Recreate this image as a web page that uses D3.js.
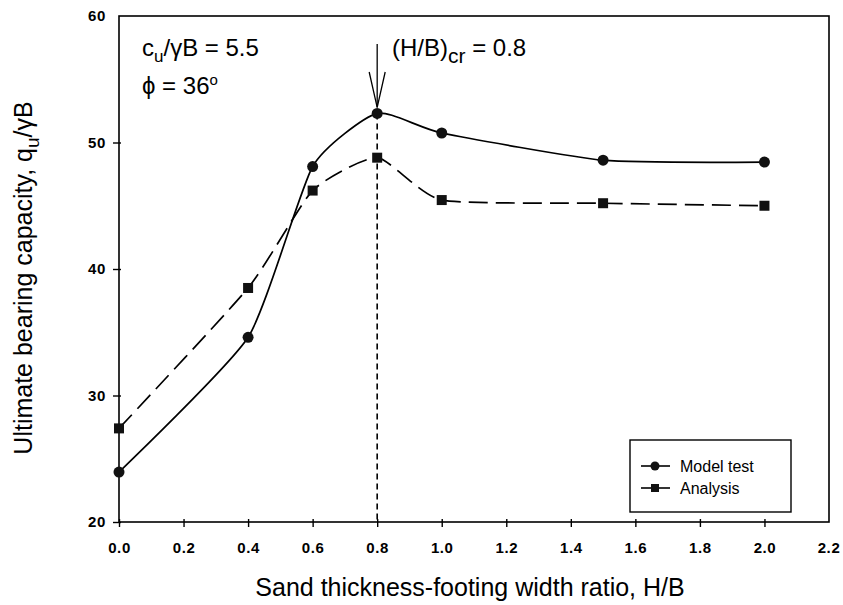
<!DOCTYPE html>
<html><head><meta charset="utf-8">
<script src="https://cdn.jsdelivr.net/npm/d3@7"></script>
<style>body{margin:0;background:#fff}svg{display:block}text{font-family:"Liberation Sans",Arial,sans-serif;fill:#000}</style>
</head><body><svg id="c" width="843" height="605"></svg>
<script>
const hb = [0.0, 0.4, 0.6, 0.8, 1.0, 1.5, 2.0];
const modelTest = [23.95, 34.6, 48.1, 52.3, 50.75, 48.6, 48.45];
const analysis = [27.4, 38.5, 46.2, 48.8, 45.45, 45.2, 45.0];
const xTicks = [0.0, 0.2, 0.4, 0.6, 0.8, 1.0, 1.2, 1.4, 1.6, 1.8, 2.0, 2.2];
const yTicks = [20, 30, 40, 50, 60];
const criticalHB = 0.8;

const svg = d3.select("#c");
const L = 119, R = 829, T = 16, B = 522;
const x = d3.scaleLinear().domain([0, 2.2]).range([L, R]);
const y = d3.scaleLinear().domain([20, 60]).range([B, T]);
const tickStyle = s => s.style("font-size", "15px").style("font-weight", "bold").style("letter-spacing", "0.6px");

svg.append("rect").attr("x", L).attr("y", T).attr("width", R - L).attr("height", B - T)
  .attr("fill", "none").attr("stroke", "#000").attr("stroke-width", 1.6);

const xa = svg.append("g").attr("transform", `translate(0,${B})`)
  .call(d3.axisBottom(x).tickValues(xTicks.filter(v => v < 2.2)).tickFormat(d3.format(".1f")).tickSize(5).tickSizeOuter(0));
xa.select(".domain").remove();
xa.selectAll("line").attr("stroke-width", 1.4).attr("y1", -3);
xa.selectAll("text").attr("y", 31).attr("dy", null).call(tickStyle);
svg.append("text").attr("x", x(2.2)).attr("y", B + 31).attr("text-anchor", "middle")
  .call(tickStyle).text(d3.format(".1f")(2.2));

const ya = svg.append("g").attr("transform", `translate(${L},0)`)
  .call(d3.axisLeft(y).tickValues(yTicks.filter(v => v < 60)).tickSize(6).tickSizeOuter(0));
ya.select(".domain").remove();
ya.selectAll("line").attr("stroke-width", 1.4).attr("x1", 2);
ya.selectAll("text").attr("x", -13).call(tickStyle);
svg.append("text").attr("x", L - 13).attr("y", y(60)).attr("dy", "0.32em").attr("text-anchor", "end")
  .call(tickStyle).text("60");

svg.append("line").attr("x1", x(criticalHB)).attr("x2", x(criticalHB))
  .attr("y1", y(modelTest[3])).attr("y2", B)
  .attr("stroke", "#000").attr("stroke-width", 1.6).attr("stroke-dasharray", "6,4");

const line = d3.line().curve(d3.curveCardinal.tension(0.45));
const ptsM = hb.map((v, i) => [x(v), y(modelTest[i])]);
const ptsA = hb.map((v, i) => [x(v), y(analysis[i])]);

svg.append("path").attr("d", line(ptsA)).attr("fill", "none").attr("stroke", "#000")
  .attr("stroke-width", 1.7).attr("stroke-dasharray", "19,8");
svg.append("path").attr("d", line(ptsM)).attr("fill", "none").attr("stroke", "#000")
  .attr("stroke-width", 1.7);

svg.selectAll(".sq").data(ptsA).join("rect").attr("x", d => d[0] - 5).attr("y", d => d[1] - 5)
  .attr("width", 10).attr("height", 10).attr("fill", "#111");
svg.selectAll(".ci").data(ptsM).join("circle").attr("cx", d => d[0]).attr("cy", d => d[1])
  .attr("r", 5.5).attr("fill", "#111");

const ax = x(criticalHB);
svg.append("line").attr("x1", ax).attr("x2", ax).attr("y1", 44).attr("y2", y(modelTest[3]) - 6)
  .attr("stroke", "#000").attr("stroke-width", 1.3);
svg.append("path").attr("d", `M${ax - 8},${72} L${ax},${y(modelTest[3]) - 6} L${ax + 8},${72}`)
  .attr("fill", "none").attr("stroke", "#000").attr("stroke-width", 1.3);

const t1 = svg.append("text").attr("x", 142).attr("y", 56).style("font-size", "24px");
t1.append("tspan").text("c");
t1.append("tspan").attr("dy", 6).style("font-size", "17px").text("u");
t1.append("tspan").attr("dy", -6).text("/γB = 5.5");
const t2 = svg.append("text").attr("x", 142).attr("y", 94).style("font-size", "24px");
t2.append("tspan").text("ϕ = 36");
t2.append("tspan").attr("dy", -9).style("font-size", "15px").text("o");
const t3 = svg.append("text").attr("x", 392).attr("y", 56).style("font-size", "24px");
t3.append("tspan").text("(H/B)");
t3.append("tspan").attr("dy", 7).style("font-size", "21px").text("cr");
t3.append("tspan").attr("dy", -7).text(" = 0.8");

svg.append("text").attr("x", 470).attr("y", 596).attr("text-anchor", "middle")
  .style("font-size", "25px").text("Sand thickness-footing width ratio, H/B");
const yt = svg.append("text").attr("transform", `translate(32,278) rotate(-90)`)
  .attr("text-anchor", "middle").style("font-size", "25px");
yt.append("tspan").text("Ultimate bearing capacity, q");
yt.append("tspan").attr("dy", 7).style("font-size", "19px").text("u");
yt.append("tspan").attr("dy", -7).text("/γB");

const lg = svg.append("g");
lg.append("rect").attr("x", 630).attr("y", 440).attr("width", 161).attr("height", 72)
  .attr("fill", "#fff").attr("stroke", "#000").attr("stroke-width", 1.4);
const items = [{name: "Model test", sym: "circle"}, {name: "Analysis", sym: "square"}];
items.forEach((it, i) => {
  const yy = 466 + i * 22;
  lg.append("line").attr("x1", 641).attr("x2", 670).attr("y1", yy).attr("y2", yy)
    .attr("stroke", "#000").attr("stroke-width", 1.6);
  if (it.sym === "circle") lg.append("circle").attr("cx", 655).attr("cy", yy).attr("r", 4.5).attr("fill", "#111");
  else lg.append("rect").attr("x", 651).attr("y", yy - 4).attr("width", 8).attr("height", 8).attr("fill", "#111");
  lg.append("text").attr("x", 680).attr("y", yy).attr("dy", "0.35em").style("font-size", "16px").text(it.name);
});
</script></body></html>
